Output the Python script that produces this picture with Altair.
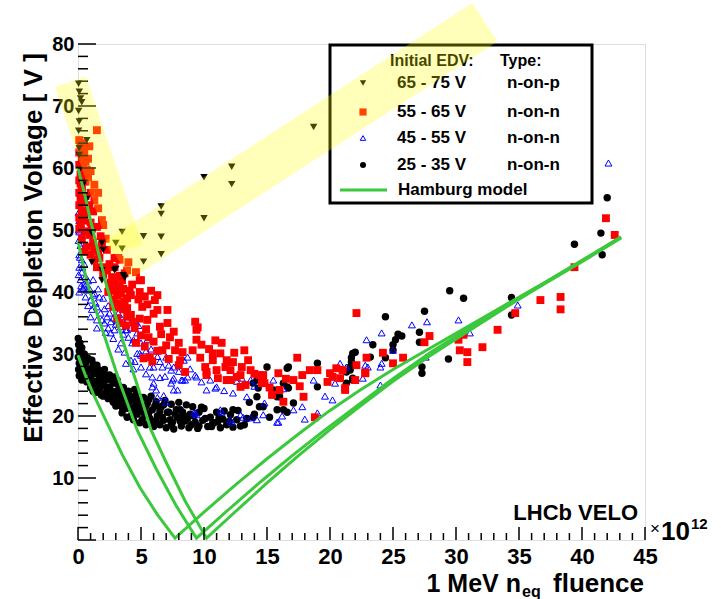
import altair as alt
import pandas as pd

# ---------------- data ----------------
# 65 - 75 V, n-on-p (dark downward triangles)
ntri_x = [0.05, 0.1, 0.2, 0.3, 0.05, 0.1, 0.05, 0.7, 0.1, 0.1, 0.1, 0.4, 0.7, 1.1, 1.9, 2.0, 1.1, 1.9, 1.9,
          3.0, 2.9, 3.6, 3.7, 3.5, 3.0, 3.5, 5.2, 5.2, 6.6, 6.6, 6.6, 6.6, 10.0, 10.0, 12.2, 12.2, 18.7]
ntri_y = [73.6, 72.3, 71.2, 70.6, 69.2, 67.5, 66.0, 64.5, 63.2, 62.1, 59.7, 57.3, 55.0, 49.5, 47.9, 46.8, 44.8, 43.5, 41.9,
          43.7, 43.5, 42.7, 42.3, 49.7, 47.9, 47.0, 49.0, 44.9, 53.8, 52.6, 48.9, 46.1, 58.5, 51.9, 60.2, 57.4, 66.6]

# 55 - 65 V, n-on-n (red squares)
red_x = [0.1, 0.2, 0.1, 0.3, 0.1, 0.2, 0.1, 0.3, 0.1, 0.2, 0.1, 0.3, 0.1, 0.2, 0.1, 0.4, 0.5, 0.6, 1.5,
         0.7, 1.0, 1.3, 1.9, 1.5, 0.9, 0.7, 2.3, 1.3, 2.2, 2.9, 3.3, 3.9, 2.7, 3.5, 5.0, 3.3, 1.9, 3.2,
         0.3, 0.6, 0.9, 1.2, 0.5, 1.6, 2.0, 1.2, 1.6, 2.5, 2.5, 3.1, 3.6, 2.8, 3.3, 3.7, 4.2,
         3.7, 4.9, 2.9, 3.1, 3.2, 3.9, 3.3, 4.9, 5.1, 6.1, 6.3, 5.5, 7.1, 7.1, 5.6, 6.5, 7.3, 6.7, 7.7, 8.1,
         5.7, 8.5, 9.3, 9.4, 9.4, 9.1, 9.7, 10.1, 10.2, 10.7, 11.4, 11.3, 11.0, 11.8, 12.1, 12.6, 11.8, 13.0,
         13.5, 13.7, 12.9, 14.4, 14.8, 15.4, 15.9, 16.3, 17.1, 13.3,
         2.6, 3.0, 3.4, 3.9, 4.3, 2.8, 3.6, 4.2, 3.1, 4.4, 5.3, 5.8, 6.3, 5.5, 6.0, 5.2, 5.9, 6.6, 7.0, 7.6,
         8.0, 8.3, 7.2, 8.0, 9.5,
         22.1, 10.7, 12.3, 11.7, 12.9, 10.2, 11.1, 12.1, 14.7, 14.6, 17.9, 17.4, 18.4, 19.0, 17.8, 20.0,
         21.0, 20.8, 19.8, 22.0, 21.2, 18.8,
         20.5, 20.2, 22.1, 22.8, 21.2, 22.9, 24.2, 25.8, 25.0, 27.9, 27.5, 30.2, 30.3, 30.9, 30.6, 32.1,
         30.9, 33.3, 34.7, 36.7, 38.3, 38.3, 39.4, 41.9, 42.6, 22.8,
         0.4, 0.3, 0.5, 0.2, 0.6, 0.8, 0.4, 0.7, 1.0, 0.4, 0.6, 1.1, 0.3, 1.3, 0.5, 1.0, 1.7, 1.5, 2.0,
         2.3, 2.4, 1.8, 2.2, 0.8, 1.0, 1.3, 1.6, 0.9,
         2.9, 3.3, 4.0, 4.6, 4.1, 3.9, 4.8, 4.5, 3.8, 4.9, 5.4, 5.0, 4.6, 5.3, 6.0, 6.3,
         9.8, 10.4, 10.9, 12.4, 13.2, 14.0, 15.2, 16.5, 16.0, 17.6]
red_y = [64.5, 63.5, 62.5, 61.5, 60.5, 59.0, 58.0, 57.0, 56.0, 55.0, 54.0, 53.0, 52.0, 51.0, 50.2, 60.0, 62.5, 61.0, 66.1,
         59.7, 56.0, 54.8, 51.6, 50.5, 49.2, 47.3, 46.8, 45.2, 44.0, 45.5, 45.2, 43.5, 42.4, 41.9, 41.9, 40.8, 47.6, 45.5,
         56.5, 55.5, 54.0, 53.0, 52.5, 53.5, 50.8, 48.0, 46.5, 44.5, 41.0, 39.5, 40.5, 38.8, 37.5, 38.5, 39.5,
         43.0, 41.9, 44.0, 40.8, 38.2, 36.0, 35.0, 40.0, 37.6, 38.7, 37.1, 35.5, 37.1, 35.0, 32.7, 34.4, 32.7, 30.6, 30.6, 29.0,
         29.5, 27.1, 35.2, 33.9, 32.3, 30.6, 29.4, 27.9, 26.6, 29.0, 31.8, 30.1, 27.4, 29.0, 27.4, 26.3, 25.8, 27.9,
         29.0, 27.4, 24.7, 26.6, 25.3, 23.4, 26.9, 22.3, 25.8, 25.0,
         41.5, 40.2, 39.8, 39.0, 41.2, 37.6, 37.2, 36.3, 35.8, 35.2, 39.3, 40.2, 39.5, 38.0, 36.5, 29.3, 28.8, 33.2, 31.4, 33.6,
         31.8, 30.3, 29.2, 28.2, 34.3,
         36.6, 30.1, 28.7, 27.9, 26.6, 27.1, 26.1, 25.8, 26.6, 25.3, 23.1, 29.4, 27.4, 27.4, 26.6, 26.9,
         27.4, 26.1, 25.5, 25.8, 24.2, 19.8,
         27.7, 26.3, 28.2, 26.9, 24.5, 29.4, 30.2, 29.4, 28.5, 32.9, 31.9, 32.3, 30.6, 30.3, 33.1, 31.1,
         28.7, 33.9, 36.6, 38.7, 37.2, 39.2, 44.0, 51.9, 49.2, 27.0,
         64.0, 62.8, 58.5, 57.5, 57.8, 58.5, 54.5, 53.2, 51.2, 51.5, 49.8, 50.2, 48.6, 47.0, 46.5, 46.0, 45.5, 44.0, 42.8,
         43.5, 40.0, 49.0, 48.6, 61.5, 59.5, 57.3, 56.0, 63.5,
         41.8, 42.6, 44.8, 43.2, 40.2, 37.4, 38.8, 34.2, 34.6, 35.7, 34.0, 33.0, 31.8, 31.2, 32.0, 30.5,
         31.5, 30.8, 32.2, 30.2, 30.6, 26.8, 24.6, 26.0, 24.2, 24.8]

# 45 - 55 V, n-on-n (open blue triangles)
blue_x = [0.05, 0.1, 0.2, 0.1, 0.3, 0.05, 0.2, 0.4, 0.1, 0.3, 0.5, 0.1, 0.3, 0.6, 0.2, 0.5, 0.8, 0.4, 0.7,
          1.0, 1.5, 1.8, 2.3, 2.6, 2.1, 2.9, 3.4, 3.8, 4.0, 4.7, 4.3, 5.0, 3.4, 3.7, 4.7, 5.2, 4.2, 6.0,
          6.7, 7.4, 5.9, 6.0, 6.2, 7.4, 7.6, 8.2, 8.7, 9.4, 8.4, 7.6, 5.0, 10.2, 9.2, 0.5, 1.3, 1.5, 3.1,
          2.6, 3.9, 4.6, 5.1, 1.0, 1.5, 3.9, 4.4, 4.9, 5.7, 5.9, 7.5, 7.9, 8.7, 8.5, 11.0, 12.3, 13.0,
          13.7, 13.4, 11.3, 9.4, 12.2, 12.9, 15.9, 15.5, 17.1, 14.7, 7.6, 8.3, 9.3, 10.9, 11.4, 13.1,
          13.7, 12.1, 14.8, 14.2, 15.8, 17.1, 19.0, 18.7, 20.2, 20.8, 9.3, 20.4, 21.3, 22.9, 24.1, 23.0,
          24.0, 24.0, 22.6, 25.0, 26.5, 27.7, 27.6, 30.2, 31.1, 22.8, 24.1, 34.9, 42.1, 1.2, 1.6, 2.0,
          2.4, 1.1, 2.2, 2.8, 3.2, 3.8, 4.4, 5.4, 6.5, 6.8, 16.2, 18.0,
          0.6, 0.9, 1.2, 0.8, 1.4, 1.7, 2.1, 1.9, 2.5, 2.8, 3.2, 2.4, 3.0, 3.5, 3.6, 4.2, 4.8, 5.5, 5.8, 6.3,
          5.4, 4.5, 5.0, 6.5, 7.0, 7.2, 6.9, 8.0, 8.9, 9.8, 10.5, 11.6, 12.6, 14.0, 16.3, 17.8, 19.6, 6.3, 7.0,
          0.15, 0.25, 0.05, 0.3, 0.15, 0.35, 0.05, 0.25, 0.1]
blue_y = [52.8, 51.5, 50.6, 49.7, 49.0, 48.3, 47.5, 46.8, 46.0, 45.2, 44.5, 44.0, 43.2, 42.5, 42.0, 41.3, 41.8, 40.6, 40.3,
          38.7, 37.6, 36.6, 36.0, 35.2, 35.0, 33.9, 34.4, 33.9, 32.7, 33.4, 31.8, 31.8, 31.8, 30.3, 30.1, 29.4, 29.0, 27.9,
          27.9, 27.4, 26.3, 25.3, 24.2, 25.3, 24.2, 25.8, 26.3, 26.3, 29.0, 27.9, 27.9, 24.2, 20.5, 40.8, 39.8, 35.5, 35.5,
          33.4, 35.5, 35.0, 33.1, 36.0, 34.2, 33.9, 32.3, 30.1, 27.9, 24.7, 25.8, 24.2, 29.5, 25.8, 24.7, 23.7, 26.1,
          25.8, 23.1, 21.0, 20.2, 19.0, 20.2, 19.0, 25.8, 25.8, 20.2, 26.1, 25.8, 26.6, 24.5, 20.6, 19.8,
          19.7, 19.4, 22.1, 19.4, 19.0, 21.0, 20.5, 25.8, 22.6, 28.5, 20.5, 25.3, 27.9, 32.3, 33.4, 27.9,
          27.9, 25.0, 26.1, 30.6, 34.7, 35.2, 29.5, 35.5, 33.4, 28.2, 28.5, 37.9, 60.8, 42.0, 40.5, 39.0,
          37.8, 37.2, 33.5, 32.5, 30.8, 28.5, 27.6, 26.8, 26.2, 23.3, 20.0, 19.5,
          39.2, 40.6, 39.5, 37.8, 38.2, 39.2, 37.3, 35.5, 36.6, 35.8, 36.6, 34.2, 34.8, 35.6, 33.2, 34.2, 34.6, 32.3, 30.8, 29.6,
          30.5, 28.8, 29.8, 28.8, 29.5, 28.2, 26.4, 27.2, 27.6, 25.5, 25.8, 24.1, 25.6, 24.8, 24.4, 21.5, 23.2, 23.0, 22.2,
          52.0, 51.0, 50.0, 47.9, 45.6, 44.0, 42.8, 41.0, 40.0]

# 25 - 35 V, n-on-n (black dots)
blk_x = [0.02, 0.05, 0.1, 0.02, 0.1, 0.05, 0.1, 0.3, 0.3, 0.3, 0.3,
         0.5, 0.6, 0.5, 0.7, 0.8, 0.9, 1.0, 1.0,
         1.2, 1.3, 1.3, 1.4, 1.6, 1.7, 1.7, 1.9, 2.0, 2.0,
         2.2, 2.3, 2.4, 2.6, 2.7, 2.8, 2.9, 3.0, 3.0,
         3.2, 3.3, 3.4, 3.5, 3.6, 3.7, 3.8, 3.9, 4.0, 4.0,
         4.2, 4.3, 4.4, 4.5, 4.6, 4.7, 4.8, 4.9, 5.0,
         5.2, 5.3, 5.4, 5.5, 5.7, 5.8, 5.9, 6.0,
         6.2, 6.3, 6.5, 6.6, 6.8, 6.9, 7.0,
         7.2, 7.4, 7.5, 7.6, 7.8, 7.9, 8.0,
         8.2, 8.3, 8.5, 8.6, 8.8, 8.9,
         9.1, 9.3, 9.5, 9.6, 9.9, 10.0,
         10.3, 10.5, 10.8, 11.0, 11.3, 11.5, 11.8, 12.1, 12.3, 12.6, 12.9, 12.3, 11.2, 10.7, 13.9,
         13.9, 14.2, 14.4, 15.8, 16.6, 17.1, 15.0, 14.7, 14.3, 14.7, 15.5, 16.3, 16.7, 16.0, 15.8, 16.6,
         14.2, 16.6, 16.3, 14.0, 13.6, 15.2,
         19.0, 21.8, 21.7, 21.3, 16.7, 19.0, 21.3, 21.6, 21.8, 22.0, 21.7, 21.6, 21.8, 23.4, 23.2, 24.4,
         25.0, 25.0, 25.2, 25.4, 25.7, 27.1, 27.1, 24.4, 27.5, 29.5, 30.6, 27.3, 27.3, 29.4, 34.4, 34.4,
         39.4, 41.5, 41.6, 42.0,
         0.15, 0.2, 0.2, 0.2, 0.4, 0.4, 0.45, 0.65, 0.7, 0.85, 1.1, 1.1, 1.15, 1.2, 1.5, 1.5, 1.55, 1.8,
         1.85, 1.85, 2.1, 2.15, 2.2, 2.5, 2.5, 2.55, 2.8, 2.85, 3.1, 3.1, 3.15, 3.4, 3.45, 3.55, 3.8, 3.85,
         4.1, 4.15, 4.2, 4.45, 4.55, 4.65, 4.9, 5.0, 5.1, 5.35, 5.6, 5.6, 5.8, 6.1, 6.2, 6.5, 6.7, 6.8,
         7.1, 7.3, 7.4, 7.7, 8.1, 8.1, 8.4, 8.7, 9.0, 9.2, 9.6, 9.8, 10.1, 10.6, 11.1, 11.6, 12.0, 12.7,
         13.2, 13.4]
blk_y = [32.5, 31.5, 30.5, 29.5, 28.5, 27.5, 26.5, 31.0, 29.0, 27.5, 25.8,
         30.0, 28.5, 27.0, 25.5, 29.3, 27.6, 26.2, 24.6,
         28.3, 26.8, 25.2, 23.8, 27.5, 26.0, 24.4, 27.2, 25.3, 23.2,
         26.6, 24.7, 22.8, 25.8, 24.0, 22.2, 26.3, 23.2, 21.6,
         25.0, 23.6, 21.6, 20.5, 24.6, 22.8, 21.2, 19.8, 24.0, 22.2,
         23.2, 20.8, 19.4, 24.3, 22.0, 20.3, 23.2, 18.9, 21.6,
         23.0, 20.2, 18.6, 22.0, 19.6, 23.2, 21.0, 18.3,
         22.3, 20.0, 18.6, 21.5, 19.3, 22.5, 18.1,
         20.6, 21.9, 19.0, 17.9, 21.0, 19.8, 22.2,
         18.4, 20.6, 19.2, 21.8, 18.1, 20.3,
         21.5, 19.0, 18.0, 20.6, 19.3, 21.2,
         18.3, 19.8, 18.9, 20.6, 18.1, 19.5, 18.6, 20.2, 18.2, 19.4, 18.4, 21.0, 19.8, 18.9, 19.8,
         25.3, 23.1, 21.5, 23.1, 24.7, 22.1, 27.9, 25.5, 24.5, 21.5, 24.2, 25.3, 24.5, 23.1, 21.0, 20.6,
         25.8, 27.7, 21.0, 20.3, 22.2, 19.8,
         28.5, 30.1, 28.7, 27.1, 27.9, 24.7, 25.3, 27.9, 25.8, 30.3, 29.4, 27.4, 26.1, 31.5, 29.5, 29.4,
         30.6, 31.5, 32.3, 33.2, 32.9, 33.5, 31.9, 36.0, 36.9, 40.2, 39.0, 27.9, 26.9, 29.2, 39.1, 36.3,
         47.7, 49.5, 46.0, 55.2,
         31.8, 30.0, 28.0, 26.8, 29.8, 28.2, 26.3, 29.4, 27.2, 25.8, 29.0, 27.3, 25.6, 24.0, 28.2, 25.6, 24.2, 26.6,
         24.8, 23.4, 27.5, 25.8, 23.8, 26.6, 24.6, 23.2, 25.3, 23.4, 25.8, 24.0, 22.4, 24.2, 22.7, 21.2, 23.5, 22.0,
         23.2, 21.4, 20.0, 22.6, 21.2, 23.5, 22.4, 20.8, 19.4, 21.4, 22.6, 20.4, 19.0, 21.6, 19.3, 20.8, 19.8, 21.8,
         20.6, 19.4, 18.6, 20.3, 19.2, 21.0, 20.0, 19.6, 18.6, 20.0, 18.4, 21.4, 19.6, 18.3, 19.1, 20.8, 19.1, 20.9,
         18.6, 19.6]

# Hamburg model curves
ham_a_x = [0.0, 0.6, 1.2, 2.3, 3.5, 4.9, 6.3, 7.7, 10.0, 12.5, 15.0, 17.5, 20.0, 22.4, 25.0, 28.0, 31.0, 34.0, 37.0, 40.0, 43.1]
ham_a_y = [29.8, 26.5, 23.6, 18.9, 13.8, 8.5, 4.1, 0.3, 4.5, 8.9, 13.1, 17.1, 20.9, 24.2, 27.5, 31.0, 34.5, 38.0, 41.5, 45.1, 48.9]
ham_b_x = [0.0, 0.5, 0.9, 2.0, 3.3, 4.7, 6.2, 7.8, 9.4, 12.0, 14.5, 17.0, 19.5, 22.0, 25.0, 28.0, 31.0, 34.0, 37.0, 40.0, 43.1]
ham_b_y = [48.2, 43.5, 40.3, 33.5, 25.5, 17.7, 11.5, 5.5, 0.3, 5.0, 9.4, 13.6, 17.6, 21.4, 26.0, 30.3, 34.1, 37.8, 41.4, 45.0, 48.8]
ham_c_x = [0.0, 0.5, 1.0, 2.2, 3.5, 4.7, 5.8, 7.0, 8.5, 10.2, 12.5, 15.0, 17.5, 20.0, 22.4, 25.0, 28.0, 31.0, 34.0, 37.0, 40.0, 43.1]
ham_c_y = [60.0, 56.0, 51.5, 41.5, 32.5, 25.0, 17.7, 12.5, 6.3, 0.3, 4.6, 9.2, 13.6, 17.8, 21.6, 25.6, 29.8, 33.7, 37.6, 41.3, 44.9, 48.7]

# yellow highlight bands (centre lines)
band1_x = [-0.6, 3.85]
band1_y = [73.9, 46.8]
band2_x = [3.2, 32.3]
band2_y = [45.2, 83.5]

legend_labels = ["65 - 75 V", "55 - 65 V", "45 - 55 V", "25 - 35 V"]
legend_types = ["n-on-p", "n-on-n", "n-on-n", "n-on-n"]

x_ticks_major = list(range(0, 46, 5))
x_ticks_minor = [v for v in range(0, 46) if v % 5 != 0]
y_ticks_major = list(range(0, 81, 10))
y_ticks_minor = [v for v in range(0, 81, 2) if v % 10 != 0]
y_labels = list(range(10, 81, 10))

# ---------------- chart ----------------
W, H = 567, 496
FONT = "Liberation Sans"

xs = alt.Scale(domain=[0, 45], nice=False, zero=False)
ys = alt.Scale(domain=[0, 80], nice=False, zero=False)
xaxis = alt.Axis(values=x_ticks_major, labelFont=FONT, labelFontWeight="bold", labelFontSize=22,
                 labelColor="black", ticks=False, domain=False, grid=False, labelPadding=6,
                 labelFlush=False, labelOverlap=False, title=None)
yaxis = alt.Axis(values=y_labels, labelFont=FONT, labelFontWeight="bold", labelFontSize=20,
                 labelColor="black", ticks=False, domain=False, grid=False, labelPadding=4,
                 labelOverlap=False, title=None)


def X(f):
    return alt.X(f, type="quantitative", scale=xs, axis=xaxis, title=None)


def Y(f):
    return alt.Y(f, type="quantitative", scale=ys, axis=yaxis, title=None)


def pts(xv, yv):
    return pd.DataFrame({"x": xv, "y": yv})


black = alt.Chart(pts(blk_x, blk_y)).mark_point(
    shape="circle", filled=True, color="black", size=55, opacity=1).encode(x=X("x"), y=Y("y"))
blue = alt.Chart(pts(blue_x, blue_y)).mark_point(
    shape="triangle-up", filled=False, color="#0000ff", size=48, strokeWidth=1, opacity=1).encode(x=X("x"), y=Y("y"))
red = alt.Chart(pts(red_x, red_y)).mark_point(
    shape="square", filled=True, color="#ff0000", size=62, opacity=1).encode(x=X("x"), y=Y("y"))
dark = alt.Chart(pts(ntri_x, ntri_y)).mark_point(
    shape="triangle-down", filled=True, color="black", size=55, opacity=1).encode(x=X("x"), y=Y("y"))

ham_rows = []
for name, hx, hy in [("a", ham_a_x, ham_a_y), ("b", ham_b_x, ham_b_y), ("c", ham_c_x, ham_c_y)]:
    for i, (a, b) in enumerate(zip(hx, hy)):
        ham_rows.append({"curve": name, "o": i, "x": a, "y": b})
ham = alt.Chart(pd.DataFrame(ham_rows)).mark_line(color="#3cc83c", strokeWidth=3).encode(
    x=X("x"), y=Y("y"), detail="curve:N", order="o:Q")

band1 = alt.Chart(pts(band1_x, band1_y)).mark_line(
    color="#ffff00", opacity=0.27, strokeWidth=33, strokeCap="butt").encode(x=X("x"), y=Y("y"))
band2 = alt.Chart(pts(band2_x, band2_y)).mark_line(
    color="#ffff00", opacity=0.27, strokeWidth=46, strokeCap="butt").encode(x=X("x"), y=Y("y"))

# inward ticks
tick_xM = alt.Chart(pd.DataFrame({"v": x_ticks_major})).mark_rule(color="black", strokeWidth=1.5).encode(
    x=X("v"), y=alt.value(H), y2=alt.value(H - 13))
tick_xm = alt.Chart(pd.DataFrame({"v": x_ticks_minor})).mark_rule(color="black", strokeWidth=1.5).encode(
    x=X("v"), y=alt.value(H), y2=alt.value(H - 7))
tick_yM = alt.Chart(pd.DataFrame({"v": y_ticks_major})).mark_rule(color="black", strokeWidth=1.5).encode(
    y=Y("v"), x=alt.value(0), x2=alt.value(18))
tick_ym = alt.Chart(pd.DataFrame({"v": y_ticks_minor})).mark_rule(color="black", strokeWidth=1.5).encode(
    y=Y("v"), x=alt.value(0), x2=alt.value(10))

one = pd.DataFrame({"k": [0]})

# legend box
leg_box = alt.Chart(one).mark_rect(fill="white", stroke="black", strokeWidth=3).encode(
    x=alt.value(252), x2=alt.value(514), y=alt.value(1), y2=alt.value(159))


def txt(t, x, y, size, align="left", baseline="middle", weight="bold", angle=None, color="black"):
    kw = dict(align=align, baseline=baseline, font=FONT, fontSize=size, fontWeight=weight, color=color)
    if angle is not None:
        kw["angle"] = angle
    return alt.Chart(one).mark_text(text=t, **kw).encode(x=alt.value(x), y=alt.value(y))


row_y = [39, 68, 94, 121]
legend_layers = [leg_box,
                 txt("Initial EDV:", 312, 17, 16),
                 txt("Type:", 422, 17, 16)]
for lab, typ, yy in zip(legend_labels, legend_types, row_y):
    legend_layers.append(txt(lab, 319, yy, 17))
    legend_layers.append(txt(typ, 429, yy, 17))
legend_layers.append(txt("Hamburg model", 320, 146, 17))

sym = [("triangle-down", True, "black", 40), ("square", True, "#ff0000", 52),
       ("triangle-up", False, "#0000ff", 30), ("circle", True, "black", 36)]
for (shape, filled, col, sz), yy in zip(sym, row_y):
    legend_layers.append(alt.Chart(one).mark_point(shape=shape, filled=filled, color=col, size=sz,
                                                   opacity=1, strokeWidth=1).encode(
        x=alt.value(285), y=alt.value(yy)))
legend_layers.append(alt.Chart(one).mark_rule(color="#3cc83c", strokeWidth=3).encode(
    x=alt.value(262), x2=alt.value(309), y=alt.value(146)))

texts = [
    txt("Effective Depletion Voltage  [ V ]", -36, 204, 26, align="center", baseline="alphabetic", angle=270),
    txt("1 MeV n", 443, 548, 25, align="right", baseline="alphabetic"),
    txt("eq", 444, 553, 16, align="left", baseline="alphabetic"),
    txt("fluence", 475, 548, 26, align="left", baseline="alphabetic"),
    txt("LHCb VELO", 560, 476, 22, align="right", baseline="alphabetic"),
    txt("\u00d7", 572, 490, 17, align="left", baseline="alphabetic", weight="normal"),
    txt("10", 583, 496, 26, align="left", baseline="alphabetic"),
    txt("12", 613, 485, 15, align="left", baseline="alphabetic"),
]

chart = alt.layer(
    black, blue, red, dark, ham,
    tick_xM, tick_xm, tick_yM, tick_ym,
    *legend_layers,
    band1, band2,
    *texts,
).properties(
    width=W, height=H,
    autosize=alt.AutoSizeParams(type="none"),
    padding={"left": 78, "top": 44, "right": 76, "bottom": 59},
).configure_view(stroke="black", strokeWidth=3).configure(background="white")

chart.save("out.html", embed_options={"renderer": "svg", "actions": False})
